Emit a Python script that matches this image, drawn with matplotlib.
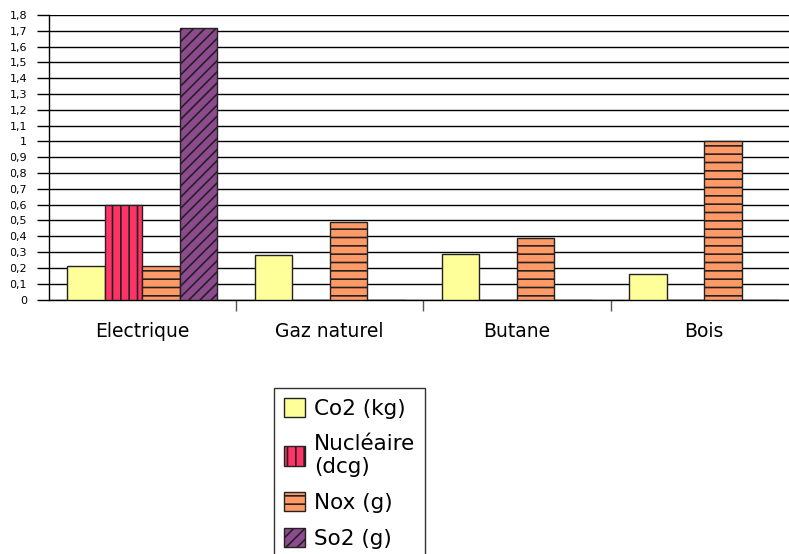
import matplotlib.pyplot as plt
import numpy as np
from matplotlib.patches import Rectangle

# data
categories = ['Electrique', 'Gaz naturel', 'Butane', 'Bois']
co2 = [0.21, 0.28, 0.29, 0.16]
nucleaire = [0.60, 0, 0, 0]
nox = [0.21, 0.49, 0.39, 1.0]
so2 = [1.72, 0, 0, 0]
series_labels = ['Co2 (kg)', 'Nucléaire\n(dcg)', 'Nox (g)', 'So2 (g)']
yticks = np.round(np.arange(0, 1.81, 0.1), 1)

colors = ['#FFFF99', '#FF3366', '#FF9966', '#8E4A8E']
hatches = ['', '||', '--', '///']

W, H = 789, 554
fig = plt.figure(figsize=(W / 100, H / 100), dpi=100)
plt.rcParams['hatch.linewidth'] = 1.2

# axes in pixel terms: left 48.5, right 798 (runs off the figure), top 15, bottom 299.5
ax = fig.add_axes([48.5 / W, 1 - 299.5 / H, (798 - 48.5) / W, (299.5 - 15) / H])

x = np.arange(len(categories))
width = 0.2
series = [co2, nucleaire, nox, so2]
for i, vals in enumerate(series):
    ax.bar(x + (i - 1.5) * width, vals, width, color=colors[i], hatch=hatches[i],
           edgecolor='#222222', linewidth=1, label=series_labels[i], zorder=3)

ax.set_xlim(-0.5, 3.5)
ax.set_ylim(0, 1.8)
ax.set_yticks(yticks)
ax.set_yticklabels([('%g' % v).replace('.', ',') for v in yticks], fontsize=8)
ax.tick_params(axis='y', length=8.5, width=1, pad=7)
ax.yaxis.grid(True, color='black', linewidth=1)
ax.set_axisbelow(True)

ax.set_xticks([0.5, 1.5, 2.5, 3.5])
ax.set_xticklabels([])
ax.tick_params(axis='x', which='major', length=8, width=1, color='#555555')
ax.set_xticks(x, minor=True)
ax.set_xticklabels(categories, minor=True, fontsize=13.5)
ax.tick_params(axis='x', which='minor', length=0, pad=16)

ax.spines['top'].set_visible(False)
ax.spines['right'].set_visible(False)
ax.spines['left'].set_linewidth(1)
ax.spines['bottom'].set_linewidth(1)

# the reference cuts off the left part of the y labels
fig.patches.append(Rectangle((0, 0), 11 / W, 1, transform=fig.transFigure,
                             facecolor='white', edgecolor='none', zorder=10))

leg = fig.legend(loc='upper left', bbox_to_anchor=(274 / W, 1 - 388 / H),
                 fontsize=15.5, frameon=True, fancybox=False, edgecolor='black',
                 handlelength=1.0, handleheight=1.0, handletextpad=0.4,
                 labelspacing=0.7, borderpad=0.45, borderaxespad=0)
leg.get_frame().set_linewidth(1)

fig.savefig('out.png', dpi=100)
